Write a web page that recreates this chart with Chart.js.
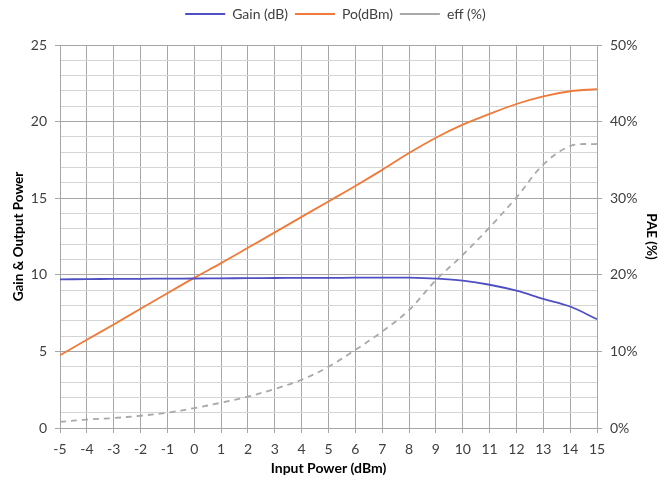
<!DOCTYPE html>
<html>
<head>
<meta charset="utf-8">
<script src="https://cdn.jsdelivr.net/npm/chart.js@4/dist/chart.umd.min.js"></script>
<style>
  html, body { margin: 0; padding: 0; background: #fff; }
  #wrap { width: 671px; height: 481px; }
</style>
</head>
<body>
<div id="wrap"><canvas id="paChart"></canvas></div>
<script>
// valores
const inputPower = [-5, -4, -3, -2, -1, 0, 1, 2, 3, 4, 5, 6, 7, 8, 9, 10, 11, 12, 13, 14, 15];
const gainDb = [9.70, 9.72, 9.73, 9.74, 9.75, 9.76, 9.77, 9.78, 9.79, 9.80, 9.80, 9.81, 9.82, 9.81, 9.75, 9.62, 9.35, 8.96, 8.43, 7.93, 7.10];
const poDbm = [4.75, 5.76, 6.76, 7.78, 8.80, 9.80, 10.76, 11.76, 12.77, 13.78, 14.79, 15.80, 16.85, 17.95, 18.95, 19.80, 20.50, 21.15, 21.65, 21.98, 22.12];
const effPct = [0.8, 1.1, 1.3, 1.6, 2.0, 2.6, 3.3, 4.1, 5.1, 6.3, 8.0, 10.2, 12.6, 15.4, 19.3, 22.6, 26.2, 30.1, 34.4, 36.8, 37.1];

const toXY = arr => arr.map((v, i) => ({ x: inputPower[i], y: v }));

const FONT = 'Lato, "Liberation Sans", sans-serif';
const MAJOR = '#a6a6a6';
const MINOR = '#d4d4d4';

// espaço extra abaixo da legenda
const legendGap = {
    id: 'legendGap',
    beforeInit(chart) {
        const origFit = chart.legend.fit;
        chart.legend.fit = function () {
            origFit.bind(chart.legend)();
            this.height += 14;
        };
    }
};

new Chart(document.getElementById('paChart'), {
    type: 'line',
    data: {
        datasets: [
            { label: 'Gain (dB)', data: toXY(gainDb), yAxisID: 'y', borderColor: '#4f4fc4', backgroundColor: '#4f4fc4', borderWidth: 1.8, pointRadius: 0, pointStyle: 'line', tension: 0.35 },
            { label: 'Po(dBm)', data: toXY(poDbm), yAxisID: 'y', borderColor: '#f07a3a', backgroundColor: '#f07a3a', borderWidth: 1.8, pointRadius: 0, pointStyle: 'line', tension: 0.35 },
            { label: 'eff (%)', data: toXY(effPct), yAxisID: 'y1', borderColor: '#a9a9a9', backgroundColor: '#a9a9a9', borderWidth: 1.8, borderDash: [6, 5], pointRadius: 0, pointStyle: 'line', tension: 0.35 }
        ]
    },
    plugins: [legendGap],
    options: {
        responsive: true,
        maintainAspectRatio: false,
        animation: false,
        plugins: {
            legend: {
                position: 'top',
                labels: {
                    usePointStyle: true,
                    pointStyleWidth: 40,
                    boxHeight: 14,
                    padding: 7,
                    color: '#404040',
                    font: { family: FONT, size: 14 }
                }
            },
            tooltip: { enabled: false }
        },
        scales: {
            x: {
                type: 'linear',
                min: -5,
                max: 15,
                ticks: { stepSize: 1, color: '#404040', font: { family: FONT, size: 14 }, padding: 8 },
                grid: { color: MAJOR, tickColor: MAJOR, tickLength: 5, lineWidth: 1 },
                border: { color: MAJOR },
                title: { display: true, text: 'Input Power (dBm)', color: '#000', font: { family: FONT, size: 14, weight: 'bold' }, padding: { top: 0, bottom: 4 } },
                afterFit: s => { s.height = 53; }
            },
            y: {
                position: 'left',
                min: 0,
                max: 25,
                ticks: {
                    stepSize: 1,
                    autoSkip: false,
                    color: '#404040',
                    font: { family: FONT, size: 14 },
                    padding: 8,
                    callback: v => (v % 5 === 0 ? v : '')
                },
                grid: {
                    color: c => (c.tick && c.tick.value % 5 === 0 ? MAJOR : MINOR),
                    tickColor: c => (c.tick && c.tick.value % 5 === 0 ? MAJOR : 'rgba(0,0,0,0)'),
                    tickLength: 5
                },
                border: { color: MAJOR },
                title: { display: true, text: 'Gain & Output Power', color: '#000', font: { family: FONT, size: 13.5, weight: 'bold' }, padding: { top: 11, bottom: 0 } },
                afterFit: s => { s.width = 60; }
            },
            y1: {
                position: 'right',
                min: 0,
                max: 50,
                ticks: { stepSize: 10, color: '#404040', font: { family: FONT, size: 14 }, padding: 8, callback: v => v + '%' },
                grid: { drawOnChartArea: false, color: MAJOR, tickLength: 5 },
                border: { color: MAJOR },
                title: { display: true, text: 'PAE (%)', color: '#000', font: { family: FONT, size: 13.5, weight: 'bold' }, padding: { top: 12, bottom: 0 } },
                afterFit: s => { s.width = 74; }
            }
        }
    }
});
</script>
</body>
</html>
